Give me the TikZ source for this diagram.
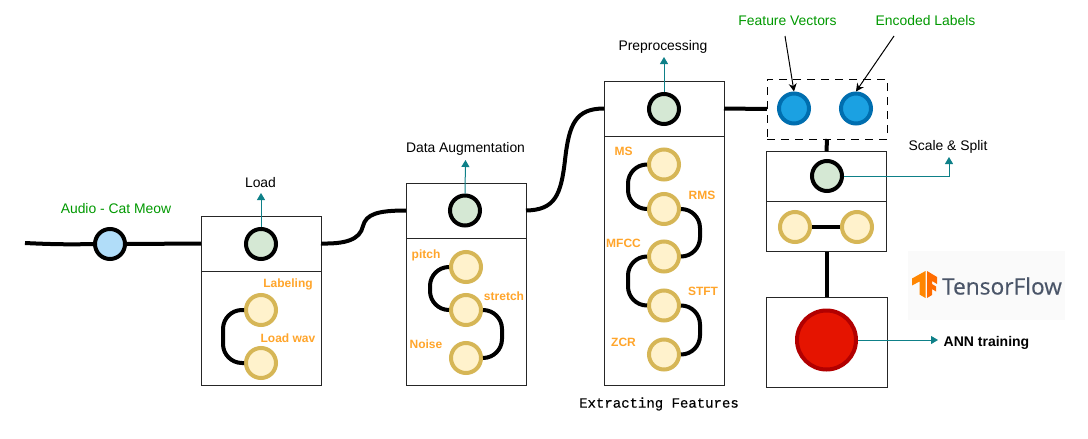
\documentclass[tikz,border=0pt]{standalone}
\usepackage{fontspec}
\setmainfont{Liberation Sans}
\newfontfamily\monofnt[FakeBold=0.4]{Liberation Mono}
\newfontfamily\logofnt[FakeBold=0.3]{Open Sans}
\usetikzlibrary{arrows.meta}
\definecolor{tealc}{HTML}{0E8088}
\definecolor{orangec}{HTML}{FFA52B}
\definecolor{greenc}{HTML}{009900}
\definecolor{greenfill}{HTML}{D5E8D4}
\definecolor{yellowfill}{HTML}{FFF2CC}
\definecolor{yellowline}{HTML}{D6B656}
\definecolor{bluefill}{HTML}{1BA1E2}
\definecolor{blueline}{HTML}{006EAF}
\definecolor{audiofill}{HTML}{B1DDF9}
\definecolor{redfill}{HTML}{E51400}
\definecolor{redline}{HTML}{B20000}
\definecolor{logogray}{HTML}{4A5568}
\tikzset{
  stagebox/.style={draw=black!85,line width=1pt,fill=white,minimum width=120pt,inner sep=0pt,outer sep=0pt},
  roundnode/.style={circle,line width=4pt,minimum size=30pt,inner sep=0pt,outer sep=2pt},
  greennode/.style={roundnode,draw=black,fill=greenfill},
  yellownode/.style={roundnode,draw=yellowline,fill=yellowfill},
  bluenode/.style={roundnode,draw=blueline,fill=bluefill},
  thick link/.style={draw=black,line width=4pt},
  side link/.style={draw=black,line width=4pt,rounded corners=19pt},
  teal link/.style={draw=tealc,line width=1pt,-{Triangle[length=7pt,width=8pt]}},
  black arrow/.style={draw=black,line width=1pt,-{Stealth[length=8pt,width=8pt]}},
  step label/.style={font=\fontsize{13.9pt}{16pt}\selectfont,text=black,inner sep=0pt},
  green label/.style={font=\fontsize{13.9pt}{16pt}\selectfont,text=greenc,inner sep=0pt},
  orange label/.style={font=\fontsize{12pt}{14pt}\selectfont\bfseries,text=orangec,inner sep=0pt},
}
\begin{document}
\begin{tikzpicture}[x=1pt,y=-1pt]
\useasboundingbox (0,0) rectangle (1088,439);
\fill[white] (0,0) rectangle (1088,439);

% stage boxes
\node[stagebox,minimum height=55pt] (loadtop) at (261,243.5) {};
\node[stagebox,minimum height=114pt] (loadbot) at (261,328) {};
\node[stagebox,minimum height=55pt] (augtop) at (466,210.5) {};
\node[stagebox,minimum height=147pt] (augbot) at (466,311.5) {};
\node[stagebox,minimum height=55pt] (pretop) at (664,108.5) {};
\node[stagebox,minimum height=249pt] (prebot) at (664,260.5) {};
\node[stagebox,minimum height=50pt] (scaletop) at (826.5,176.5) {};
\node[stagebox,minimum height=50pt] (scalebot) at (826.5,226.5) {};
\node[stagebox,minimum height=90pt,minimum width=121pt] (annbox) at (826.5,342) {};
\node[draw=black,line width=1pt,dash pattern=on 8pt off 6pt,minimum width=120pt,minimum height=60pt,inner sep=0pt,outer sep=0pt] (dashbox) at (827,109) {};

% logo
\node[fill=black!2,minimum width=157pt,minimum height=69pt,inner sep=0pt] (logobg) at (986.5,285.5) {};
\fill[orange!95!yellow] (925.5,271) -- (912,278.5) -- (912,285.5) -- (919.5,281.5) -- (919.5,294.5) -- (925.5,298) -- cycle;
\fill[orange!85!red] (927,271) -- (937,277) -- (937,284) -- (932,281) -- (932,284) -- (936,286.5) -- (936,291.5) -- (932,289) -- (932,295) -- (927,298) -- cycle;
\node[font=\logofnt\fontsize{22.7pt}{25pt}\selectfont,text=logogray,inner sep=0pt] (logotext) at (1002,286) {TensorFlow};

% nodes
\coordinate (start) at (25,243);
\node[roundnode,draw=black,fill=audiofill] (audio) at (110,244) {};
\node[greennode] (gload) at (261,244) {};
\node[greennode] (gaug) at (465,210.5) {};
\node[greennode] (gpre) at (664,109) {};
\node[greennode] (gscale) at (827,176) {};
\node[yellownode] (y1) at (261,310) {};
\node[yellownode] (y2) at (261,363) {};
\node[yellownode] (a1) at (466,267) {};
\node[yellownode] (a2) at (466,310) {};
\node[yellownode] (a3) at (466,358) {};
\node[yellownode] (f1) at (664,164.5) {};
\node[yellownode] (f2) at (664,209) {};
\node[yellownode] (f3) at (664,256.5) {};
\node[yellownode] (f4) at (664,305.5) {};
\node[yellownode] (f5) at (664,354.5) {};
\node[yellownode] (s1) at (795,227) {};
\node[yellownode] (s2) at (857,227) {};
\node[bluenode] (b1) at (794,108.5) {};
\node[bluenode] (b2) at (856,108.5) {};
\node[roundnode,draw=redline,fill=redfill,minimum size=59pt] (red) at (826.5,340) {};

% thick connectors
\draw[thick link] (start) .. controls (55,244.5) and (75,244.5) .. (audio.west);
\draw[thick link] (audio.east) -- (loadtop.west);
\coordinate (m1) at (363,226);
\coordinate (m2) at (565,160);
\draw[thick link] (loadtop.east) .. controls (345,244) and (360,240) .. (m1) .. controls (366,214) and (378,210.5) .. (augtop.west);
\draw[thick link] (augtop.east) .. controls (555,210) and (561,195) .. (m2) .. controls (569,125) and (575,108.5) .. (pretop.west);
\draw[thick link] (pretop.east) -- (dashbox.west);
\draw[thick link] (dashbox.south) -- (scaletop.north);
\draw[thick link] (scalebot.south) -- (annbox.north);
\draw[thick link] (s1.east) -- (s2.west);
\draw[side link] (y1.west) -- ++(-21,0) |- (y2.west);
\draw[side link] (a1.west) -- ++(-19,0) |- (a2.west);
\draw[side link] (a2.east) -- ++(19,0) |- (a3.east);
\draw[side link] (f1.west) -- ++(-19,0) |- (f2.west);
\draw[side link] (f2.east) -- ++(19,0) |- (f3.east);
\draw[side link] (f3.west) -- ++(-19,0) |- (f4.west);
\draw[side link] (f4.east) -- ++(19,0) |- (f5.east);

% labels
\node[green label] (laudio) at (116,209) {Audio - Cat Meow};
\node[step label] (lload) at (260.5,183) {Load};
\node[step label] (laug) at (465.5,149) {Data Augmentation};
\node[step label] (lpre) at (663,47) {Preprocessing};
\node[step label] (lscale) at (948,147) {Scale \& Split};
\node[green label] (lfv) at (787.5,21) {Feature Vectors};
\node[green label] (lel) at (925.5,21) {Encoded Labels};
\node[orange label] (o1) at (288,284) {Labeling};
\node[orange label] (o2) at (288,338.5) {Load wav};
\node[orange label] (o3) at (426,255) {pitch};
\node[orange label] (o4) at (504,296.5) {stretch};
\node[orange label] (o5) at (426,344.5) {Noise};
\node[orange label] (o6) at (623.5,151) {MS};
\node[orange label] (o7) at (702,195) {RMS};
\node[orange label] (o8) at (623.5,243.5) {MFCC};
\node[orange label] (o9) at (703,291) {STFT};
\node[orange label] (o10) at (623.5,342.5) {ZCR};
\node[font=\fontsize{14pt}{16pt}\selectfont\bfseries,text=black,inner sep=0pt] (lann) at (986.5,343) {ANN training};
\node[font=\monofnt\fontsize{14pt}{16pt}\selectfont,text=black,inner sep=0pt] (lext) at (659,404) {Extracting Features};

% teal arrows
\coordinate (tload) at (261,193);
\coordinate (taug) at (465.5,160);
\coordinate (tpre) at (664,57);
\coordinate (tscale) at (949,157);
\coordinate (tann) at (938,340);
\draw[teal link] (gload.north) -- (tload);
\draw[teal link] (gaug.north) -- (taug);
\draw[teal link] (gpre.north) -- (tpre);
\draw[teal link] (gscale.east) -| (tscale);
\draw[teal link] (red.east) -- (tann);

% black arrows
\coordinate (sfv) at (785,36);
\coordinate (sel) at (894,36);
\draw[black arrow] (sfv) -- (b1.north);
\draw[black arrow] (sel) -- (b2.north);
\end{tikzpicture}
\end{document}
